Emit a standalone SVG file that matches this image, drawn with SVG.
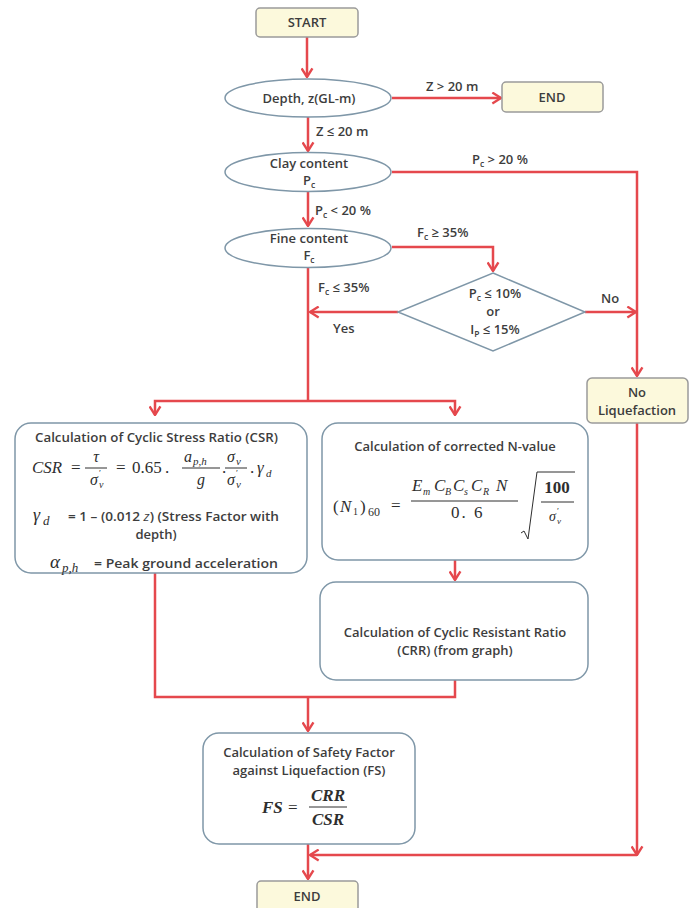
<svg xmlns="http://www.w3.org/2000/svg" width="697" height="908" viewBox="0 0 697 908">
<style>
.bg{fill:#ffffff}
.term{fill:#fcf9dc;stroke:#9a9a9a;stroke-width:1.5}
.node{fill:#ffffff;stroke:#7f97a8;stroke-width:1.5}
.t{font-family:"Open Sans",Lato,"Liberation Sans",sans-serif;font-weight:600;font-size:13px;fill:#3d3d3d;text-anchor:middle}
.l{font-family:"Open Sans",Lato,"Liberation Sans",sans-serif;font-weight:600;font-size:13px;fill:#3d3d3d}
.mi{font-family:"Liberation Serif","DejaVu Serif",serif;font-style:italic;fill:#2e2e2e}
.mn{font-family:"Liberation Serif","DejaVu Serif",serif;font-style:normal;fill:#2e2e2e}
.c{fill:none;stroke:#e5484d;stroke-width:2.5}
.bar{stroke:#2e2e2e;stroke-width:1}
</style>
<defs>
<marker id="ah" viewBox="0 0 10 12" refX="9" refY="6" markerWidth="11" markerHeight="13" orient="auto" markerUnits="userSpaceOnUse">
<path d="M1,1 L9,6 L1,11" fill="none" stroke="#e5484d" stroke-width="2.2"/>
</marker>
</defs>
<rect class="bg" x="0" y="0" width="697" height="908"/>

<g id="connectors">
<path class="c" d="M307,37 V77" marker-end="url(#ah)"/>
<path class="c" d="M392,98 H501" marker-end="url(#ah)"/>
<path class="c" d="M308,117 V151" marker-end="url(#ah)"/>
<path class="c" d="M392,172 H637 V376" marker-end="url(#ah)"/>
<path class="c" d="M308,192 V226" marker-end="url(#ah)"/>
<path class="c" d="M392,247 H493 V271" marker-end="url(#ah)"/>
<path class="c" d="M585,312 H636" marker-end="url(#ah)"/>
<path class="c" d="M398,312 H310" marker-end="url(#ah)"/>
<path class="c" d="M308,267 V401"/>
<path class="c" d="M308,401 H155 V415" marker-end="url(#ah)"/>
<path class="c" d="M308,401 H455 V415" marker-end="url(#ah)"/>
<path class="c" d="M455,560 V580" marker-end="url(#ah)"/>
<path class="c" d="M155,573 V697 H455 V680"/>
<path class="c" d="M308,697 V731" marker-end="url(#ah)"/>
<path class="c" d="M637,423 V855" marker-end="url(#ah)"/>
<path class="c" d="M637,855 H310" marker-end="url(#ah)"/>
<path class="c" d="M308,844 V879" marker-end="url(#ah)"/>
<text class="l" x="426" y="91">Z &gt; 20 m</text>
<text class="l" x="316" y="136">Z ≤ 20 m</text>
<text class="l" x="472" y="164">P<tspan font-size="8.5" dy="3">c</tspan><tspan dy="-3"> &gt; 20 %</tspan></text>
<text class="l" x="315" y="215">P<tspan font-size="8.5" dy="3">c</tspan><tspan dy="-3"> &lt; 20 %</tspan></text>
<text class="l" x="417" y="237">F<tspan font-size="8.5" dy="3">c</tspan><tspan dy="-3"> ≥ 35%</tspan></text>
<text class="l" x="318" y="292">F<tspan font-size="8.5" dy="3">c</tspan><tspan dy="-3"> ≤ 35%</tspan></text>
<text class="l" x="333" y="333">Yes</text>
<text class="l" x="601" y="303">No</text>
</g>

<g id="start">
<rect class="term" x="256" y="8" width="102" height="29" rx="4"/>
<text class="t" x="307" y="27" font-size="14">START</text>
</g>

<g id="depth">
<ellipse class="node" cx="308" cy="98" rx="83" ry="19"/>
<text class="t" x="309" y="103">Depth, z(GL-m)</text>
</g>

<g id="end1">
<rect class="term" x="502" y="82" width="101" height="30" rx="4"/>
<text class="t" x="552" y="102" font-size="14">END</text>
</g>

<g id="clay">
<ellipse class="node" cx="308" cy="172" rx="83" ry="19.5"/>
<text class="t" x="309" y="168">Clay content</text>
<text class="t" x="309" y="185">P<tspan font-size="8.5" dy="3">c</tspan></text>
</g>

<g id="fine">
<ellipse class="node" cx="308" cy="248" rx="83" ry="19.5"/>
<text class="t" x="309" y="243">Fine content</text>
<text class="t" x="309" y="260">F<tspan font-size="8.5" dy="3">c</tspan></text>
</g>

<g id="decision">
<polygon class="node" points="493,273 585,312 493,351 398,312"/>
<text class="t" x="495" y="298" font-size="12.5">P<tspan font-size="8.5" dy="3">c</tspan><tspan dy="-3"> ≤ 10%</tspan></text>
<text class="t" x="493" y="316" font-size="12.5">or</text>
<text class="t" x="495" y="334" font-size="12.5">I<tspan font-size="8.5" dy="3">P</tspan><tspan dy="-3"> ≤ 15%</tspan></text>
</g>

<g id="noliq">
<rect class="term" x="587" y="378" width="101" height="45" rx="5"/>
<text class="t" x="637" y="397">No</text>
<text class="t" x="637" y="415">Liquefaction</text>
</g>

<g id="csr">
<rect class="node" x="15" y="423" width="292" height="150" rx="16"/>
<text class="l" x="35" y="442" font-size="13" textLength="243" lengthAdjust="spacingAndGlyphs">Calculation of Cyclic Stress Ratio (CSR)</text>
<text class="mi" x="32" y="473" font-size="17" textLength="30" lengthAdjust="spacingAndGlyphs">CSR</text>
<text class="mn" x="71" y="473" font-size="17">=</text>
<text class="mi" x="96" y="462" font-size="16" text-anchor="middle">τ</text>
<line class="bar" x1="85" y1="468" x2="107" y2="468"/>
<text class="mi" x="90" y="485" font-size="16">σ</text>
<text class="mi" x="99" y="488" font-size="10">v</text>
<text class="mn" x="99" y="476" font-size="9">′</text>
<text class="mn" x="116" y="473" font-size="17">=</text>
<text class="mn" x="132" y="473" font-size="17">0.65</text>
<text class="mn" x="165" y="473" font-size="17">.</text>
<text class="mi" x="184" y="462" font-size="16">a</text>
<text class="mi" x="193" y="465" font-size="11">p,h</text>
<line class="bar" x1="182" y1="468" x2="220" y2="468"/>
<text class="mi" x="201" y="485" font-size="16" text-anchor="middle">g</text>
<text class="mn" x="222" y="473" font-size="17">.</text>
<text class="mi" x="227" y="462" font-size="16">σ</text>
<text class="mi" x="236" y="465" font-size="11">v</text>
<line class="bar" x1="225" y1="468" x2="247" y2="468"/>
<text class="mi" x="227" y="485" font-size="16">σ</text>
<text class="mi" x="236" y="488" font-size="11">v</text>
<text class="mn" x="236" y="476" font-size="9">′</text>
<text class="mn" x="250" y="473" font-size="17">.</text>
<text class="mi" x="257" y="473" font-size="17">γ</text>
<text class="mi" x="266" y="477" font-size="11">d</text>
<text class="mi" x="33" y="521" font-size="18">γ</text>
<text class="mi" x="43" y="525" font-size="13">d</text>
<text class="l" x="68" y="521" font-size="13.5" textLength="211" lengthAdjust="spacingAndGlyphs">= 1 – (0.012 <tspan font-style="italic" font-weight="normal">z</tspan>) (Stress Factor with</text>
<text class="t" x="156" y="539" font-size="14">depth)</text>
<text class="mi" x="50" y="568" font-size="19">α</text>
<text class="mi" x="62" y="572" font-size="13">p,h</text>
<text class="l" x="94" y="568" font-size="13.5" textLength="184" lengthAdjust="spacingAndGlyphs">= Peak ground acceleration</text>
</g>

<g id="nvalue">
<rect class="node" x="322" y="423" width="266" height="137" rx="16"/>
<text class="t" x="455" y="451" font-size="13.7">Calculation of corrected N-value</text>
<text class="mn" font-size="17"><tspan x="333" y="512">(</tspan><tspan x="340" y="512" style="font-style:italic">N</tspan><tspan x="353" y="515" font-size="10">1</tspan><tspan x="360" y="512">)</tspan><tspan x="368" y="516" font-size="12">60</tspan></text>
<text class="mn" x="391" y="511" font-size="17">=</text>
<text class="mi" font-size="17"><tspan x="412" y="491">E</tspan><tspan x="423" y="495" font-size="10">m</tspan><tspan x="434" y="491">C</tspan><tspan x="445" y="495" font-size="10">B</tspan><tspan x="453" y="491">C</tspan><tspan x="464" y="495" font-size="10">s</tspan><tspan x="471" y="491">C</tspan><tspan x="483" y="495" font-size="10">R</tspan><tspan x="496" y="491">N</tspan></text>
<line class="bar" x1="411" y1="501" x2="518" y2="501"/>
<text class="mn" x="451" y="518" font-size="17" letter-spacing="2">0. 6</text>
<path d="M521,533 L524,531 L528,539 L537,472 H575" fill="none" stroke="#2e2e2e" stroke-width="1"/>
<text class="mn" x="557" y="493" font-size="17" font-weight="bold" text-anchor="middle">100</text>
<line class="bar" x1="541" y1="502" x2="574" y2="502"/>
<text class="mi" x="549" y="521" font-size="14">σ</text>
<text class="mi" x="557" y="524" font-size="9">v</text>
<text class="mn" x="557" y="514" font-size="9">′</text>
</g>

<g id="crr">
<rect class="node" x="320" y="582" width="268" height="98" rx="16"/>
<text class="t" x="455" y="637" font-size="13.7">Calculation of Cyclic Resistant Ratio</text>
<text class="t" x="455" y="655" font-size="13.7">(CRR) (from graph)</text>
</g>

<g id="fs">
<rect class="node" x="203" y="733" width="212" height="111" rx="16"/>
<text class="t" x="309" y="757" font-size="13.7">Calculation of Safety Factor</text>
<text class="t" x="309" y="775" font-size="13.7">against Liquefaction (FS)</text>
<text class="mi" x="262" y="813" font-size="17" font-weight="bold">FS</text>
<text class="mn" x="288" y="813" font-size="17">=</text>
<text class="mi" x="328" y="801" font-size="17" font-weight="bold" text-anchor="middle">CRR</text>
<line class="bar" x1="309" y1="807" x2="347" y2="807"/>
<text class="mi" x="328" y="825" font-size="17" font-weight="bold" text-anchor="middle">CSR</text>
</g>

<g id="end2">
<rect class="term" x="257" y="881" width="101" height="32" rx="4"/>
<text class="t" x="307" y="901" font-size="14">END</text>
</g>
</svg>
